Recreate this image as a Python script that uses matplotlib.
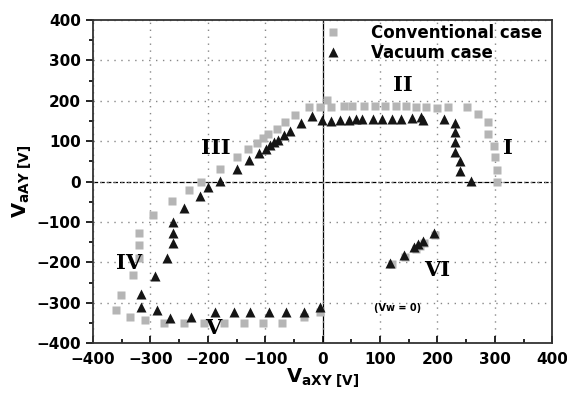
import numpy as np
import matplotlib.pyplot as plt

# Conventional case (gray squares)
conv_x = [303, 303, 300, 298, 288, 288, 270, 252, 218, 200, 180, 162, 146, 127, 108,
          92, 72, 52, 37, 15, 8, -4, -24, -48, -65, -80, -95, -103, -115, -130,
          -150, -178, -212, -233, -262, -295, -320, -319, -319, -330, -351, -360,
          -336, -309, -277, -242, -207, -171, -137, -104, -70, -32, -5,
          120, 143, 162, 170, 177, 196]
conv_y = [0, 28, 62, 89, 118, 148, 168, 185, 184, 182, 184, 184, 187, 187, 187,
          187, 187, 187, 187, 185, 201, 184, 184, 165, 147, 130, 117, 109, 96, 80,
          61, 31, 0, -20, -48, -83, -127, -157, -189, -231, -281, -319,
          -334, -343, -350, -350, -349, -349, -349, -349, -349, -336, -323,
          -205, -186, -167, -159, -152, -131]

# Vacuum case (black triangles)
vac_x = [258, 240, 240, 230, 230, 230, 230, 211, 175, 172, 155, 136, 120, 104, 88,
         69, 58, 46, 30, 14, -1, -18, -38, -56, -67, -78, -84, -91, -99, -111,
         -128, -149, -178, -199, -213, -242, -261, -260, -260, -271, -292, -316,
         -316, -288, -266, -230, -188, -155, -127, -94, -63, -32, -5,
         117, 141, 160, 167, 174, 194]
vac_y = [2, 27, 50, 74, 97, 122, 144, 156, 152, 159, 158, 154, 154, 154, 154,
         154, 154, 153, 153, 151, 152, 163, 144, 126, 116, 103, 97, 90, 81, 71,
         53, 31, 2, -13, -36, -66, -99, -128, -153, -188, -234, -278,
         -310, -319, -338, -334, -324, -324, -324, -324, -324, -322, -310,
         -201, -182, -163, -155, -148, -127]

ticks = [-400, -300, -200, -100, 0, 100, 200, 300, 400]

fig = plt.figure(figsize=(5.67, 3.94), dpi=100)
ax = fig.add_axes([0.164, 0.129, 0.81, 0.82])

ax.plot(conv_x, conv_y, 's', color='#b5b5b5', ms=5.5, mec='none', label='Conventional case')
ax.plot(vac_x, vac_y, '^', color='#151515', ms=7, mec='none', label='Vacuum case')

ax.axhline(0, color='black', ls='--', lw=0.9, zorder=1)
ax.axvline(0, color='black', lw=0.9, zorder=1)

ax.set_xlim(-400, 400)
ax.set_ylim(-400, 400)
ax.set_xticks(ticks)
ax.set_yticks(ticks)
ax.set_xticks(np.arange(-350, 400, 100), minor=True)
ax.set_yticks(np.arange(-350, 400, 100), minor=True)
ax.grid(True, which='major', ls=(0, (1, 4)), color='#888888', lw=1.0)
ax.tick_params(axis='x', which='both', direction='in', labelsize=11, pad=6)
ax.tick_params(axis='y', which='both', direction='out', labelsize=11)
ax.tick_params(which='major', length=5, width=1.2)
ax.tick_params(which='minor', length=3, width=1.2)
for lab in ax.get_xticklabels() + ax.get_yticklabels():
    lab.set_fontweight('bold')
for s in ax.spines.values():
    s.set_linewidth(1.3)
    s.set_color('#333333')

ax.set_xlabel(r'$\mathbf{V}_{\mathbf{aXY\ [V]}}$', fontsize=14, labelpad=0)
ax.set_ylabel(r'$\mathbf{V}_{\mathbf{aAY\ [V]}}$', fontsize=14, labelpad=2)

ax.legend(loc='upper right', bbox_to_anchor=(1.0, 1.02), frameon=False,
          prop={'weight': 'bold', 'size': 12}, handletextpad=1.3,
          labelspacing=0.15, borderaxespad=0.2)

rom = dict(family='DejaVu Serif', fontweight='bold', fontsize=15, ha='center', va='center')
ax.text(322, 83, 'I', **rom)
ax.text(139, 239, 'II', **rom)
ax.text(-186, 83, 'III', **rom)
ax.text(-338, -201, 'IV', **rom)
ax.text(-190, -362, 'V', **rom)
ax.text(200, -219, 'VI', **rom)
ax.text(131, -313, '(Vw = 0)', fontsize=7, fontweight='bold', ha='center', va='center')

fig.savefig('out.png', dpi=100)
